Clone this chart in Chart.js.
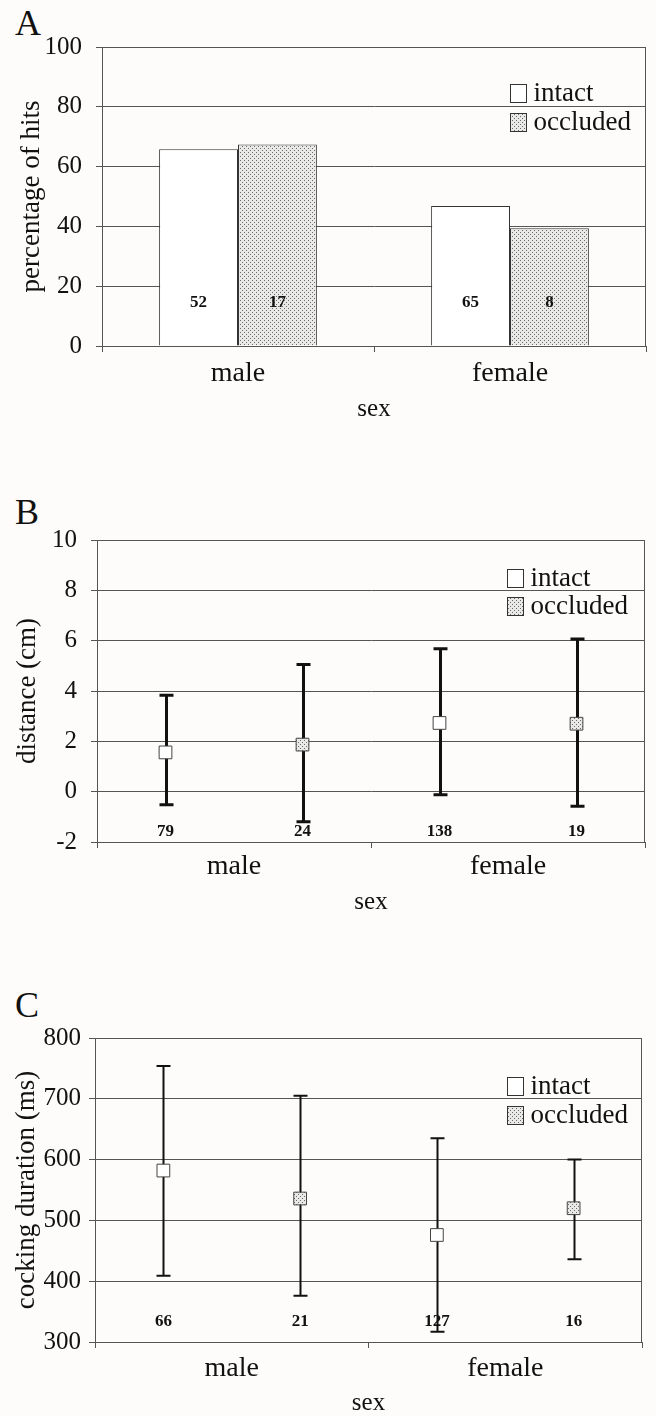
<!DOCTYPE html>
<html>
<head>
<meta charset="utf-8">
<script src="https://cdn.jsdelivr.net/npm/chart.js@4.4.1/dist/chart.umd.min.js"></script>
<style>
  html, body { margin: 0; padding: 0; background: #fdfcfa; width: 656px; height: 1416px; overflow: hidden; }
  .panel { position: absolute; left: 0; width: 656px; }
  .letter { position: absolute; left: 15px; font-family: "Liberation Serif", "Times New Roman", serif; font-size: 36px; line-height: 36px; color: #111; }
</style>
</head>
<body>
<div class="letter" style="top:5px">A</div>
<div class="letter" style="top:494px">B</div>
<div class="letter" style="top:987px">C</div>
<div class="panel" style="top:0px"><canvas id="chartA" width="656" height="440"></canvas></div>
<div class="panel" style="top:460px"><canvas id="chartB" width="656" height="460"></canvas></div>
<div class="panel" style="top:940px"><canvas id="chartC" width="656" height="480"></canvas></div>
<script>
const categories = ['male', 'female'];
const seriesNames = ['intact', 'occluded'];

// A - percentage of hits
const hitsIntact = [65.8, 46.8];
const hitsOccluded = [67.4, 39.4];
const hitsNIntact = [52, 65];
const hitsNOccluded = [17, 8];

// B - distance (cm): mean, lower and upper ends of the bars
const distMeanIntact = [1.56, 2.73];
const distLowIntact = [-0.52, -0.12];
const distHighIntact = [3.83, 5.68];
const distMeanOccluded = [1.87, 2.70];
const distLowOccluded = [-1.2, -0.58];
const distHighOccluded = [5.05, 6.07];
const distNIntact = [79, 138];
const distNOccluded = [24, 19];

// C - cocking duration (ms)
const durMeanIntact = [582, 476];
const durLowIntact = [409, 317];
const durHighIntact = [754, 635];
const durMeanOccluded = [536, 520];
const durLowOccluded = [376, 436];
const durHighOccluded = [705, 600];
const durNIntact = [66, 127];
const durNOccluded = [21, 16];

const serif = '"Liberation Serif", "Times New Roman", serif';
const ink = '#111';
const lineGrey = '#555';

function makeStipple() {
    const c = document.createElement('canvas');
    c.width = 4; c.height = 4;
    const g = c.getContext('2d');
    g.fillStyle = '#e9e9e7';
    g.fillRect(0, 0, 4, 4);
    g.fillStyle = '#6a6a6a';
    g.fillRect(0, 0, 1, 1);
    g.fillRect(2, 2, 1, 1);
    return g.createPattern(c, 'repeat');
}
const stipple = makeStipple();

// frame round the plot area
const framePlugin = {
    id: 'frame',
    beforeDatasetsDraw(chart) {
        const { ctx, chartArea: a } = chart;
        ctx.save();
        ctx.strokeStyle = lineGrey;
        ctx.lineWidth = 1;
        ctx.strokeRect(Math.round(a.left) + 0.5, Math.round(a.top) + 0.5,
            Math.round(a.right - a.left) - 1, Math.round(a.bottom - a.top));
        ctx.restore();
    }
};

// vertical bars with caps, drawn under the markers
const errorBarPlugin = {
    id: 'errorBars',
    beforeDatasetsDraw(chart, args, opts) {
        const { ctx } = chart;
        const xs = chart.scales.x, ys = chart.scales.y;
        ctx.save();
        ctx.strokeStyle = '#111';
        ctx.lineWidth = opts.width || 2;
        chart.data.datasets.forEach(ds => {
            if (!ds.low) return;
            ds.data.forEach((p, i) => {
                const x = Math.round(xs.getPixelForValue(p.x)) + 0.5;
                const yl = ys.getPixelForValue(ds.low[i]);
                const yh = ys.getPixelForValue(ds.high[i]);
                ctx.beginPath();
                ctx.moveTo(x, yl); ctx.lineTo(x, yh);
                ctx.moveTo(x - 7, yl); ctx.lineTo(x + 7, yl);
                ctx.moveTo(x - 7, yh); ctx.lineTo(x + 7, yh);
                ctx.stroke();
            });
        });
        ctx.restore();
    }
};

// sample sizes written near the bottom of each group
const countsPlugin = {
    id: 'counts',
    afterDatasetsDraw(chart, args, opts) {
        const { ctx } = chart;
        const y = chart.scales.y.getPixelForValue(opts.atValue);
        ctx.save();
        ctx.fillStyle = '#111';
        ctx.font = 'bold 17px ' + serif;
        ctx.textAlign = 'center';
        ctx.textBaseline = 'middle';
        chart.data.datasets.forEach((ds, di) => {
            chart.getDatasetMeta(di).data.forEach((el, i) => {
                ctx.fillText(String(ds.counts[i]), el.x, y);
            });
        });
        ctx.restore();
    }
};

// legend box inside the top right of the plot
const insideLegendPlugin = {
    id: 'insideLegend',
    afterDraw(chart, args, opts) {
        const { ctx, chartArea: a } = chart;
        const x = Math.round(a.right - opts.right) + 0.5;
        ctx.save();
        ctx.font = '27px ' + serif;
        ctx.textBaseline = 'middle';
        ctx.textAlign = 'left';
        chart.data.datasets.forEach((ds, i) => {
            const cy = a.top + opts.top + i * opts.gap;
            const top = Math.round(cy - 9) + 0.5;
            ctx.fillStyle = ds.legendFill;
            ctx.fillRect(x, top, 16, 18);
            ctx.strokeStyle = '#333';
            ctx.lineWidth = 1;
            ctx.strokeRect(x, top, 16, 18);
            ctx.fillStyle = ink;
            ctx.fillText(ds.label, x + 23, cy + 1);
        });
        ctx.restore();
    }
};

function yScale(min, max, step, title, width, titlePad, tickPad) {
    return {
        min: min, max: max,
        ticks: { stepSize: step, color: ink, font: { family: serif, size: 25 }, padding: tickPad },
        grid: { color: lineGrey, lineWidth: 1, tickLength: 6, tickColor: lineGrey },
        border: { color: lineGrey },
        title: { display: true, text: title, color: ink, font: { family: serif, size: 27 }, padding: { top: titlePad, bottom: 0 } },
        afterFit: s => { s.width = width; }
    };
}

function xTitle() {
    return { display: true, text: 'sex', color: ink, font: { family: serif, size: 25 }, padding: 0 };
}

// ---------- A ----------
new Chart(document.getElementById('chartA'), {
    type: 'bar',
    data: {
        labels: categories,
        datasets: [
            { label: seriesNames[0], data: hitsIntact, backgroundColor: '#ffffff', borderColor: '#333', borderWidth: 1,
              counts: hitsNIntact, legendFill: '#ffffff' },
            { label: seriesNames[1], data: hitsOccluded, backgroundColor: stipple, borderColor: '#333', borderWidth: 1,
              counts: hitsNOccluded, legendFill: stipple }
        ]
    },
    options: {
        responsive: false,
        animation: false,
        events: [],
        categoryPercentage: 0.58,
        barPercentage: 1.0,
        layout: { padding: { top: 47, right: 10, left: 0, bottom: 16 } },
        scales: {
            x: {
                grid: { drawOnChartArea: false, tickLength: 6, color: lineGrey, offset: true },
                border: { color: lineGrey },
                ticks: { color: ink, font: { family: serif, size: 28 }, padding: 5 },
                title: xTitle(),
                afterFit: s => { s.height = 78; }
            },
            y: yScale(0, 100, 20, 'percentage of hits', 102, 16, 14)
        },
        plugins: {
            legend: { display: false },
            tooltip: { enabled: false },
            counts: { atValue: 14.4 },
            insideLegend: { right: 136, top: 45.5, gap: 29.5 }
        }
    },
    plugins: [framePlugin, countsPlugin, insideLegendPlugin]
});

// ---------- B and C share the same layout ----------
function pointSet(name, means, lows, highs, counts, fill, series) {
    return {
        type: 'scatter',
        label: name,
        data: categories.map((c, i) => ({ x: i * 2 + 0.5 + series, y: means[i] })),
        low: lows, high: highs, counts: counts,
        pointStyle: 'rect', pointRadius: 9,
        backgroundColor: fill, borderColor: '#444', borderWidth: 1,
        legendFill: fill
    };
}

function xCategoryScale(height, pad) {
    return {
        type: 'linear', min: 0, max: categories.length * 2,
        ticks: {
            stepSize: 1, autoSkip: false, color: ink, font: { family: serif, size: 28 }, padding: pad,
            callback: v => (v % 2 === 1 ? categories[(v - 1) / 2] : '')
        },
        grid: {
            drawOnChartArea: false, tickLength: 6, color: lineGrey,
            tickColor: c => (c.tick && c.tick.value % 2 === 1 ? 'rgba(0,0,0,0)' : lineGrey)
        },
        border: { color: lineGrey },
        title: xTitle(),
        afterFit: s => { s.height = height; }
    };
}

new Chart(document.getElementById('chartB'), {
    type: 'scatter',
    data: {
        datasets: [
            pointSet(seriesNames[0], distMeanIntact, distLowIntact, distHighIntact, distNIntact, '#ffffff', 0),
            pointSet(seriesNames[1], distMeanOccluded, distLowOccluded, distHighOccluded, distNOccluded, stipple, 1)
        ]
    },
    options: {
        responsive: false,
        animation: false,
        events: [],
        layout: { padding: { top: 80, right: 11, left: 0, bottom: 3 } },
        scales: {
            x: xCategoryScale(75, 2),
            y: yScale(-2, 10, 2, 'distance (cm)', 97, 12, 14)
        },
        plugins: {
            legend: { display: false },
            tooltip: { enabled: false },
            errorBars: { width: 3 },
            counts: { atValue: -1.6 },
            insideLegend: { right: 138, top: 37.5, gap: 28.5 }
        }
    },
    plugins: [framePlugin, errorBarPlugin, countsPlugin, insideLegendPlugin]
});

new Chart(document.getElementById('chartC'), {
    type: 'scatter',
    data: {
        datasets: [
            pointSet(seriesNames[0], durMeanIntact, durLowIntact, durHighIntact, durNIntact, '#ffffff', 0),
            pointSet(seriesNames[1], durMeanOccluded, durLowOccluded, durHighOccluded, durNOccluded, stipple, 1)
        ]
    },
    options: {
        responsive: false,
        animation: false,
        events: [],
        layout: { padding: { top: 98, right: 14, left: 0, bottom: 2 } },
        scales: {
            x: xCategoryScale(76, 4),
            y: yScale(300, 800, 100, 'cocking duration (ms)', 95, 11, 8)
        },
        plugins: {
            legend: { display: false },
            tooltip: { enabled: false },
            errorBars: { width: 2 },
            counts: { atValue: 333 },
            insideLegend: { right: 135, top: 48, gap: 29 }
        }
    },
    plugins: [framePlugin, errorBarPlugin, countsPlugin, insideLegendPlugin]
});
</script>
</body>
</html>
